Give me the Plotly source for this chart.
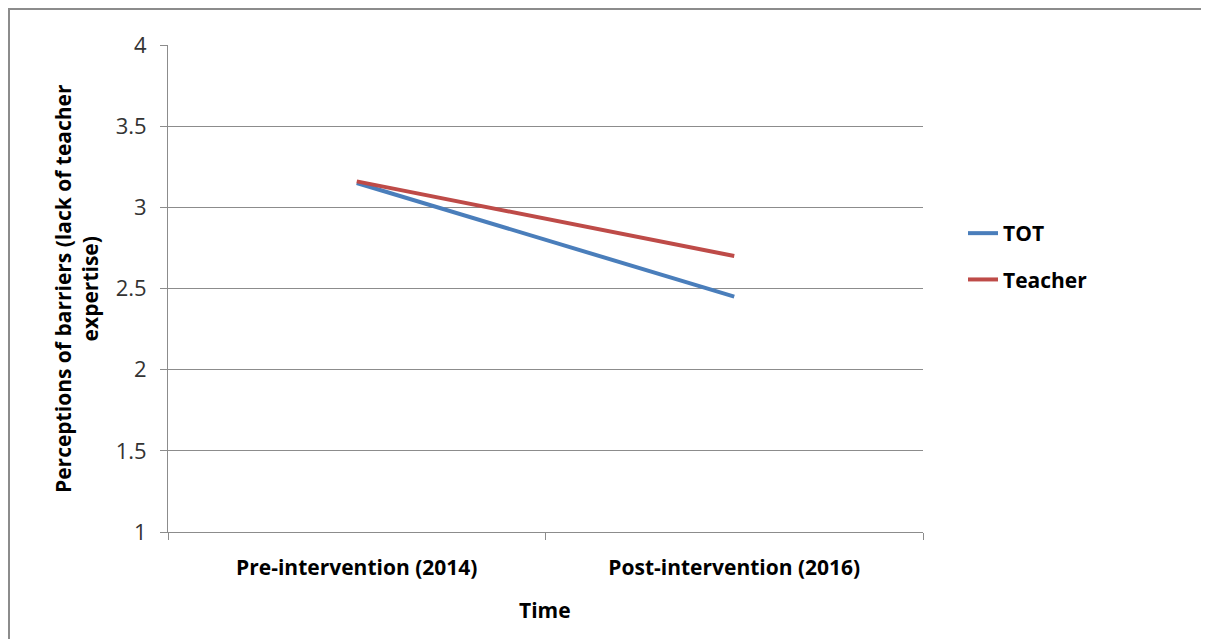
import plotly.graph_objects as go

categories = ["Pre-intervention (2014)", "Post-intervention (2016)"]
tot_values = [3.15, 2.45]
teacher_values = [3.16, 2.70]
y_ticks = [1, 1.5, 2, 2.5, 3, 3.5, 4]

FONT = "Open Sans"
W, H = 1201, 639
L, R, T, B = 160, 286, 37, 115
PW, PH = W - L - R, H - T - B

fig = go.Figure()
fig.add_trace(go.Scatter(x=categories, y=tot_values, mode="lines", name="TOT",
                         line=dict(color="#4A7EBB", width=4), legendgroup="a"))
fig.add_trace(go.Scatter(x=categories, y=teacher_values, mode="lines", name="Teacher",
                         line=dict(color="#BE4B48", width=4), legendgroup="b"))

fig.update_layout(
    width=W, height=H,
    margin=dict(l=L, r=R, t=T, b=B),
    paper_bgcolor="white", plot_bgcolor="white",
    font=dict(family=FONT, size=22, color="#1a1a1a"),
    showlegend=True,
    legend=dict(x=(955 - L) / PW, y=(524 - 205) / PH, xanchor="left", yanchor="top",
                font=dict(family=FONT, size=21, color="#000000", weight="bold"),
                tracegroupgap=16, bgcolor="rgba(0,0,0,0)"),
    xaxis=dict(
        type="category", showgrid=False, showline=True, linecolor="#8c8c8c", linewidth=1,
        ticks="outside", tickson="boundaries", ticklen=7, tickcolor="#8c8c8c",
        tickfont=dict(family=FONT, size=21, color="#000000", weight="bold"),
        ticklabelstandoff=17,
        range=[-0.5, 1.5], fixedrange=True,
    ),
    yaxis=dict(
        range=[1, 4], tickvals=y_ticks, ticktext=[str(v) for v in y_ticks],
        showgrid=True, gridcolor="#8c8c8c", gridwidth=1,
        showline=True, linecolor="#8c8c8c", linewidth=1,
        ticks="outside", ticklen=7, tickcolor="#8c8c8c",
        tickfont=dict(family=FONT, size=22, color="#333333"),
        ticklabelstandoff=9,
        zeroline=False,
    ),
)

fig.add_annotation(
    text="<b>Perceptions of barriers (lack of teacher<br>expertise)</b>",
    xref="paper", yref="paper", x=(68 - L) / PW, y=(524 - 281) / PH,
    xanchor="center", yanchor="middle",
    textangle=-90, showarrow=False, align="center",
    font=dict(family=FONT, size=21, color="#000000"),
)
fig.add_annotation(
    text="<b>Time</b>",
    xref="paper", yref="paper", x=(537 - L) / PW, y=(524 - 602) / PH,
    xanchor="center", yanchor="middle", showarrow=False,
    font=dict(family=FONT, size=21, color="#000000"),
)

fig.add_shape(type="rect", xref="paper", yref="paper",
              x0=(1 - L) / PW, x1=(1199 - L) / PW, y0=(524 - 700) / PH, y1=(524 - 1) / PH,
              line=dict(color="#8c8c8c", width=2), fillcolor="rgba(0,0,0,0)", layer="below")

fig.write_html("out.html")
